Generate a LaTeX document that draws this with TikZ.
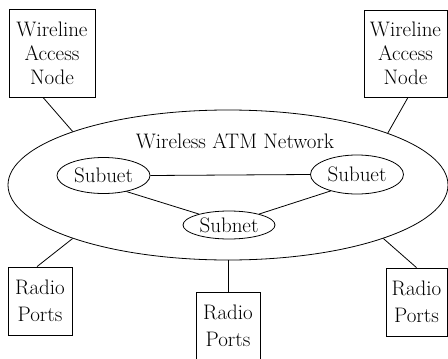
\documentclass[tikz,border=0pt]{standalone}
\usetikzlibrary{shapes.geometric}
\begin{document}
\begin{tikzpicture}[x=1pt,y=-1pt,line width=0.8pt,
  every node/.style={font=\fontsize{21}{24}\selectfont},
  accbox/.style={draw,rectangle,inner sep=0pt,align=center},
  radbox/.style={draw,rectangle,inner sep=0pt,align=center,font=\fontsize{21}{27}\selectfont},
  oval/.style={draw,ellipse,inner sep=0pt}]
\useasboundingbox (0,0) rectangle (448,359);
% access nodes
\node[accbox,minimum width=86pt,minimum height=88pt] (tl) at (52,53) {Wireline\\Access\\Node};
\node[accbox,minimum width=83pt,minimum height=87pt] (tr) at (405.5,53.5) {Wireline\\Access\\Node};
% network
\node[oval,minimum width=440pt,minimum height=150pt] (net) at (228,185) {};
\node[anchor=base] (lbl) at (235,148) {Wireless ATM Network};
\node[oval,minimum width=93pt,minimum height=36pt] (ls) at (103.5,175.5) {Subuet};
\node[oval,minimum width=93pt,minimum height=39pt] (rs) at (357,174.5) {Subuet};
\node[oval,minimum width=92pt,minimum height=28pt] (sn) at (229,225) {Subnet};
% radio ports
\node[radbox,minimum width=64pt,minimum height=68pt] (lr) at (40,301) {Radio\\Ports};
\node[radbox,minimum width=64pt,minimum height=68pt] (mr) at (228,326) {Radio\\Ports};
\node[radbox,minimum width=61pt,minimum height=68pt] (rr) at (416.5,302) {Radio\\Ports};
% connectors
\draw ([xshift=-9pt]tl.south) -- (net.161);
\draw ([xshift=2.5pt]tr.south) -- (net.18.4);
\draw ([xshift=-3pt]lr.north) -- (net.199);
\draw (mr.north) -- (net.south);
\draw (rr.north) -- (net.341.6);
\draw (ls.east) -- (rs.west);
\draw (ls.-35) -- (sn.160);
\draw (rs.212) -- (sn.20);
\end{tikzpicture}
\end{document}
